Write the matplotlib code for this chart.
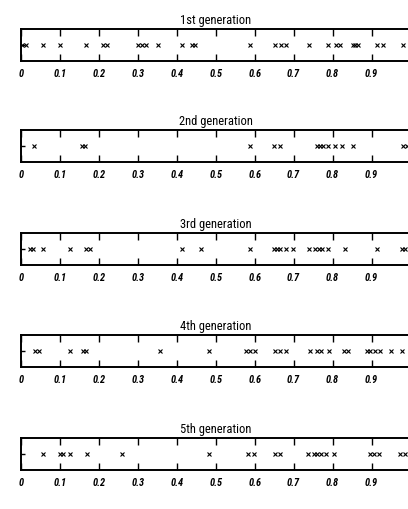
import numpy as np
import matplotlib
matplotlib.use("Agg")
import matplotlib.pyplot as plt

plt.rcParams['font.family'] = ['Roboto Condensed', 'DejaVu Sans']

# positions of the x marks, one list per generation
titles = ["1st generation", "2nd generation", "3rd generation",
          "4th generation", "5th generation"]

gen1 = [0.003, 0.012, 0.057, 0.10, 0.167, 0.21, 0.222, 0.30, 0.31, 0.322,
        0.353, 0.413, 0.438, 0.446, 0.587, 0.653, 0.668, 0.68, 0.739, 0.789,
        0.81, 0.818, 0.852, 0.858, 0.866, 0.914, 0.93, 0.982]
gen2 = [0.034, 0.156, 0.165, 0.587, 0.650, 0.666, 0.761, 0.768, 0.776,
        0.787, 0.807, 0.825, 0.853, 0.982, 0.992]
gen3 = [0.023, 0.032, 0.056, 0.126, 0.167, 0.176, 0.413, 0.462, 0.587,
        0.649, 0.657, 0.666, 0.681, 0.698, 0.739, 0.756, 0.764, 0.773,
        0.788, 0.833, 0.914, 0.979, 0.985]
gen4 = [0.036, 0.047, 0.126, 0.160, 0.167, 0.357, 0.482, 0.578, 0.589,
        0.602, 0.653, 0.666, 0.681, 0.743, 0.760, 0.770, 0.790, 0.829,
        0.840, 0.889, 0.897, 0.910, 0.921, 0.949, 0.979]
gen5 = [0.057, 0.099, 0.109, 0.126, 0.169, 0.259, 0.482, 0.584, 0.599,
        0.653, 0.666, 0.736, 0.752, 0.760, 0.770, 0.782, 0.803, 0.897,
        0.907, 0.919, 0.974, 0.985]
generations = [gen1, gen2, gen3, gen4, gen5]

xticks = [0, 0.1, 0.2, 0.3, 0.4, 0.5, 0.6, 0.7, 0.8, 0.9]
xticklabels = ["0", "0.1", "0.2", "0.3", "0.4", "0.5", "0.6", "0.7", "0.8", "0.9"]

W, H = 408, 510
fig = plt.figure(figsize=(W / 100, H / 100), dpi=100)

box_tops = [30, 131, 234, 336, 439]   # pixel rows of the box tops
box_h = 32
left, right = 21, 410.5

for i in range(5):
    ax = fig.add_axes([left / W, 1 - (box_tops[i] + box_h) / H,
                       (right - left) / W, box_h / H])
    xs = np.array(generations[i])
    ax.plot(xs, np.zeros_like(xs), 'x', color='black', ms=3.2, mew=0.8)
    ax.set_xlim(0, 1)
    ax.set_ylim(-1, 1)
    ax.set_xticks(xticks)
    ax.set_xticklabels(xticklabels, fontsize=7.5, fontweight='bold',
                       fontstyle='italic')
    ax.set_yticks([0])
    ax.set_yticklabels([])
    ax.tick_params(direction='in', length=5, width=1, top=True, right=False,
                   pad=5, colors='black')
    ax.tick_params(axis='y', length=3)
    for s in ax.spines.values():
        s.set_linewidth(1.4)
    ax.set_title(titles[i], fontsize=9, pad=4)

fig.savefig("out.png", dpi=100)
